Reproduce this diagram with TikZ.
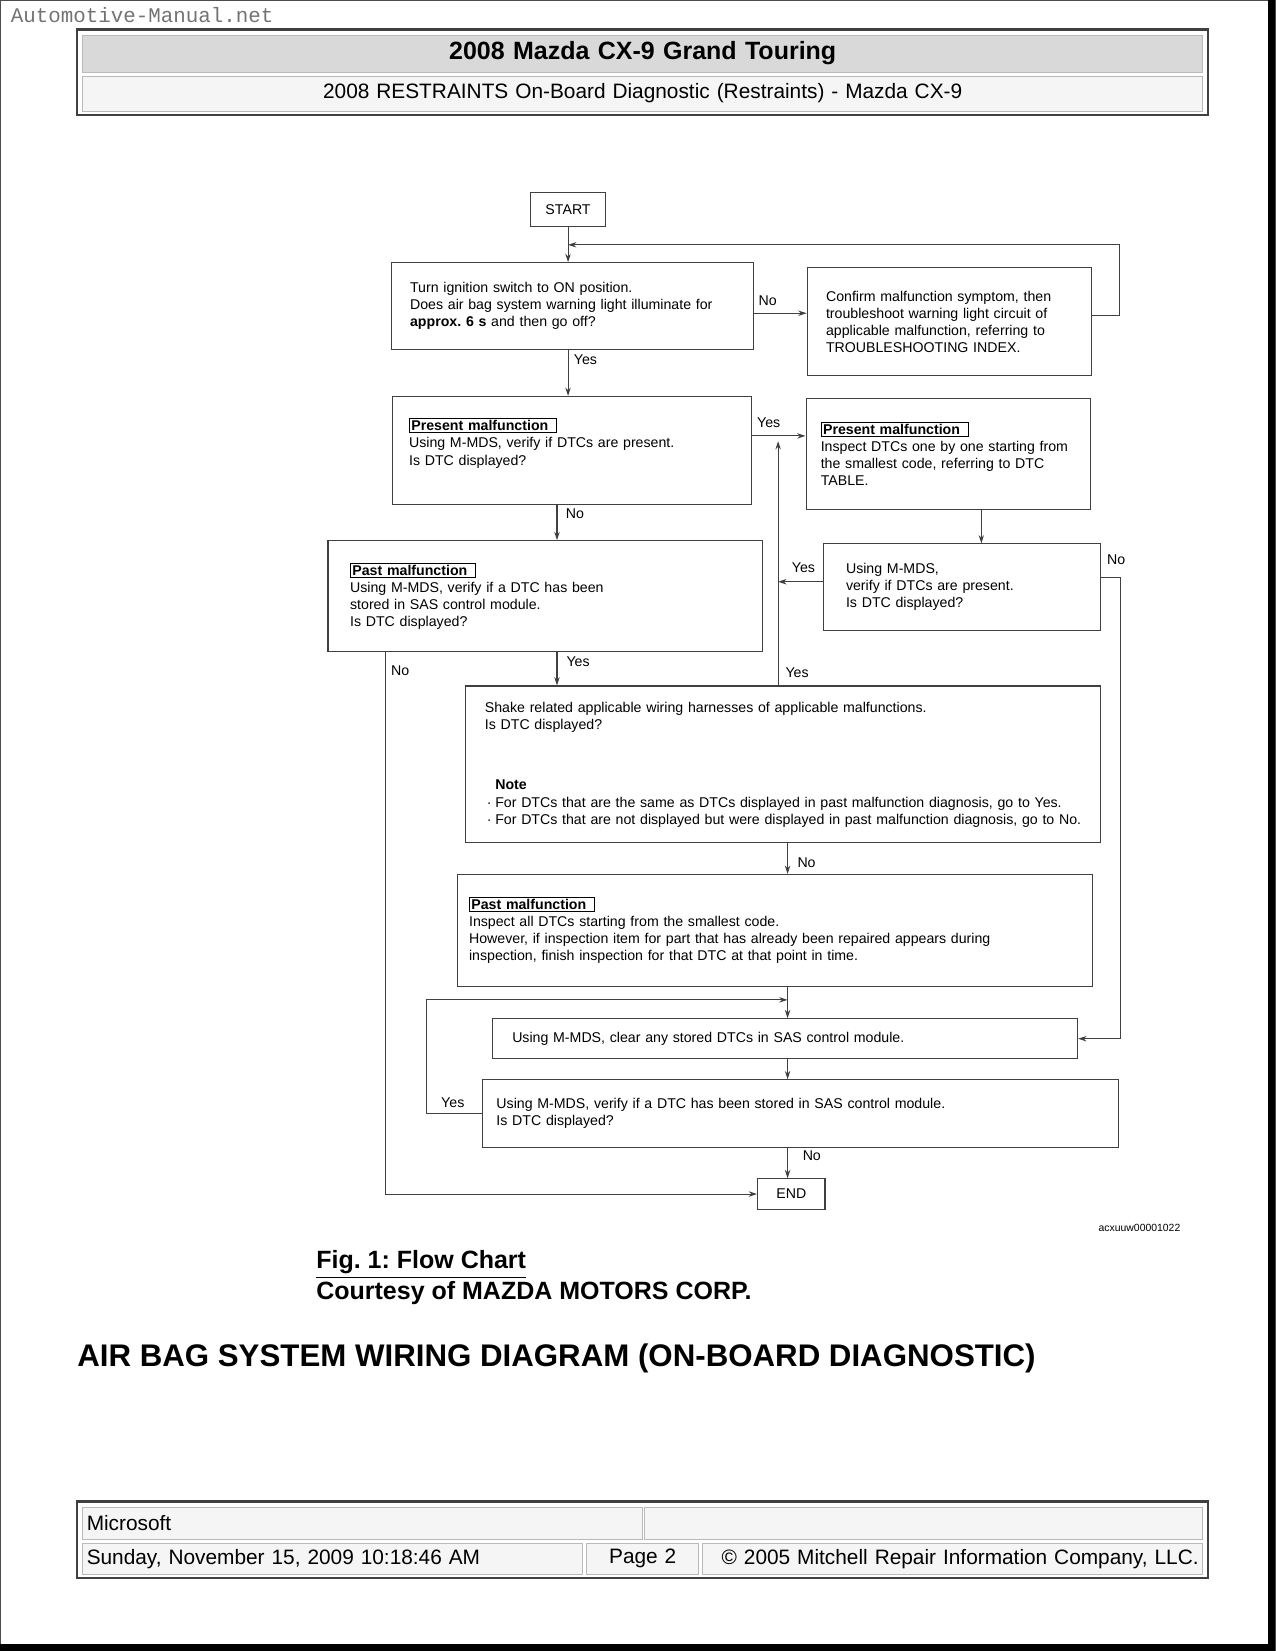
\documentclass[tikz,border=0pt]{standalone}
\usepackage{fontspec}
\setmainfont{Liberation Sans}
\newfontfamily\sitefont{Liberation Mono}
\usetikzlibrary{arrows.meta,positioning,calc}
\frenchspacing

\def\un{0.50537pt}
\newcommand{\tagbox}[1]{{\setlength{\fboxsep}{0.6pt}\setlength{\fboxrule}{0.5pt}\fbox{\bfseries #1\hspace{3pt}}}}

\tikzset{
  flowbox/.style n args={3}{draw=black!75, line width=0.5pt, anchor=north west, align=left,
    inner xsep=#3*\un, inner ysep=0pt, text width=(#1-2*#3)*\un, minimum height=#2*\un,
    font=\fontsize{6.8}{8.2}\selectfont},
  endbox/.style 2 args={draw=black!75, line width=0.5pt, anchor=north west, inner sep=0pt,
    minimum width=#1*\un, minimum height=#2*\un, font=\fontsize{6.8}{8.2}\selectfont},
  answer/.style={inner sep=0pt, font=\fontsize{6.8}{8.2}\selectfont},
  wire/.style={draw=black!75, line width=0.5pt},
  cell/.style n args={3}{draw=gray!55, fill=#3, anchor=north west, inner xsep=4*\un, inner ysep=0pt,
    text width=(#1-8)*\un, minimum height=#2*\un, font=\fontsize{10}{12}\selectfont},
}

\begin{document}
\begin{tikzpicture}[x=\un, y=-\un, >={Stealth[length=4pt,width=2.6pt]}]
  \useasboundingbox (0,0) rectangle (1211,1568);
  % page frame
  \draw[black!70, line width=0.5pt] (0.5,0.5) rectangle (1211,1568);
  \fill[black] (1204,0) rectangle (1211,1568);
  \fill[black] (0,1561) rectangle (1211,1568);
  \node[anchor=west, inner sep=0pt, text=black!55, font=\sitefont\fontsize{10}{12}\selectfont] (site) at (10,14) {Automotive-Manual.net};

  % header table
  \draw[black!75, line width=1pt] (73,28) rectangle (1147,109);
  \node[cell={1064}{35}{gray!30}, align=center, font=\bfseries\fontsize{12}{14}\selectfont] (hdtitle) at (78,33) {2008 Mazda CX-9 Grand Touring};
  \node[cell={1064}{33}{gray!8}, align=center] (hdsub) at (78,72) {2008 RESTRAINTS On-Board Diagnostic (Restraints) - Mazda CX-9};

  % flow chart
  \node[endbox={72}{33}] (start) at (503,182) {START};
  \node[flowbox={344}{82}{18}] (ignition) at (371,249) {Turn ignition switch to ON position.\\Does air bag system warning light illuminate for\\\textbf{approx. 6 s} and then go off?};
  \node[flowbox={270}{102}{18}] (symptom) at (766,254) {Confirm malfunction symptom, then\\troubleshoot warning light circuit of\\applicable malfunction, referring to\\TROUBLESHOOTING INDEX.};
  \node[flowbox={341}{103}{16}, text depth=25pt] (presentchk) at (372,376) {\tagbox{Present malfunction}\\Using M-MDS, verify if DTCs are present.\\Is DTC displayed?};
  \node[flowbox={270}{105}{14}] (presentdtc) at (765,378) {\tagbox{Present malfunction}\\Inspect DTCs one by one starting from\\the smallest code, referring to DTC\\TABLE.};
  \node[flowbox={263}{82}{21}] (recheck) at (782,516) {Using M-MDS,\\verify if DTCs are present.\\Is DTC displayed?};
  \node[flowbox={413}{105}{21}] (pastchk) at (311,513) {\tagbox{Past malfunction}\\Using M-MDS, verify if a DTC has been\\stored in SAS control module.\\Is DTC displayed?};
  \node[flowbox={603}{149}{18}] (shake) at (442,651) {Shake related applicable wiring harnesses of applicable malfunctions.\\Is DTC displayed?\\[21pt]\hspace*{5pt}\textbf{Note}\\\makebox[5pt][l]{\hspace{1pt}·}For DTCs that are the same as DTCs displayed in past malfunction diagnosis, go to Yes.\\\makebox[5pt][l]{\hspace{1pt}·}For DTCs that are not displayed but were displayed in past malfunction diagnosis, go to No.};
  \node[flowbox={603}{106}{11}] (pastdtc) at (434,830) {\tagbox{Past malfunction}\\Inspect all DTCs starting from the smallest code.\\However, if inspection item for part that has already been repaired appears during\\inspection, finish inspection for that DTC at that point in time.};
  \node[flowbox={556}{38}{19}] (clear) at (467,967) {Using M-MDS, clear any stored DTCs in SAS control module.};
  \node[flowbox={604}{64}{13}] (storedchk) at (458,1025) {Using M-MDS, verify if a DTC has been stored in SAS control module.\\Is DTC displayed?};
  \node[endbox={64}{29}] (finish) at (719,1119) {END};

  \coordinate (loopin) at ($(start.south)!0.5!(start.south |- ignition.north)$);
  \coordinate (dtcdown) at ($(presentdtc.south west)+(167,0)$);
  \coordinate (yesfoot) at ($(shake.north west)+(297,0)$);
  \coordinate (yestop) at ($(presentchk.east)+(26,-9)$);
  \coordinate (nodown) at ($(presentchk.south west)+(157,0)$);
  \coordinate (pastno) at ($(pastchk.south west)+(55,0)$);
  \coordinate (midx) at ($(shake.south west)+(306,0)$);
  \coordinate (loopjoin) at ($(pastdtc.south -| midx)!0.42!(clear.north -| midx)$);

  \draw[wire,->] (start.south) -- (start.south |- ignition.north);
  \draw[wire,->] ($(ignition.east)+(0,7)$) -- ($(ignition.east -| symptom.west)+(0,7)$);
  \draw[wire,->] ($(symptom.east)+(0,-6)$) -- ++(26,0) |- (loopin);
  \draw[wire,->] (ignition.south -| start.south) -- (presentchk.north -| start.south);
  \draw[wire,->] ($(presentchk.east)+(0,-14)$) -- ($(presentchk.east -| presentdtc.west)+(0,-14)$);
  \draw[wire,->] (dtcdown) -- (dtcdown |- recheck.north);
  \draw[wire,->] (yesfoot) -- (yesfoot |- yestop);
  \draw[wire,->] ($(recheck.west)+(0,-5)$) -- ($(recheck.west -| yesfoot)+(0,-5)$);
  \draw[wire,->] ($(recheck.east)+(0,-9)$) -- ++(18,0) |- (clear.east);
  \draw[wire,->] (nodown) -- (nodown |- pastchk.north);
  \draw[wire,->] (pastchk.south -| nodown) -- (shake.north -| nodown);
  \draw[wire,->] (pastno) |- (finish.west);
  \draw[wire,->] (midx) -- (midx |- pastdtc.north);
  \draw[wire,->] (pastdtc.south -| midx) -- (clear.north -| midx);
  \draw[wire,->] (storedchk.west) -- ++(-53,0) |- (loopjoin);
  \draw[wire,->] (clear.south -| midx) -- (storedchk.north -| midx);
  \draw[wire,->] (storedchk.south -| midx) -- (finish.north -| midx);

  \node[answer] (noa) at (729,286) {No};
  \node[answer] (yesa) at (556,342) {Yes};
  \node[answer] (yesb) at (730,401) {Yes};
  \node[answer] (nob) at (546,488) {No};
  \node[answer] (yesc) at (763,539) {Yes};
  \node[answer] (noc) at (1060,532) {No};
  \node[answer] (nod) at (380,637) {No};
  \node[answer] (yesd) at (549,628) {Yes};
  \node[answer] (yese) at (757,639) {Yes};
  \node[answer] (noe) at (766,819) {No};
  \node[answer] (yesf) at (430,1047) {Yes};
  \node[answer] (nof) at (771,1098) {No};
  \node[anchor=west, inner sep=0pt, font=\fontsize{5}{6}\selectfont] (figcode) at (1043,1166) {acxuuw00001022};

  % captions
  \node[anchor=west, inner sep=0pt, font=\bfseries\fontsize{12}{14}\selectfont] (figcap) at (300,1201) {\underline{Fig. 1: Flow Chart}};
  \node[anchor=west, inner sep=0pt, font=\bfseries\fontsize{12}{14}\selectfont] (courtesy) at (300,1228) {Courtesy of MAZDA MOTORS CORP.};
  \node[anchor=west, inner sep=0pt, font=\bfseries\fontsize{15}{18}\selectfont] (section) at (73,1290) {AIR BAG SYSTEM WIRING DIAGRAM (ON-BOARD DIAGNOSTIC)};

  % footer table
  \draw[black!75, line width=1pt] (73,1426) rectangle (1147,1499);
  \node[cell={532}{31}{gray!8}, align=left] (ftmaker) at (78,1431) {Microsoft};
  \node[cell={530}{31}{gray!8}] (ftblank) at (612,1431) {};
  \node[cell={475}{30}{gray!8}, align=left] (ftdate) at (78,1465) {Sunday, November 15, 2009 10:18:46 AM};
  \node[cell={106}{30}{gray!8}, align=center] (ftpage) at (557,1465) {Page 2};
  \node[cell={475}{30}{gray!8}, align=right] (ftcopy) at (667,1465) {© 2005 Mitchell Repair Information Company, LLC.};
\end{tikzpicture}
\end{document}
